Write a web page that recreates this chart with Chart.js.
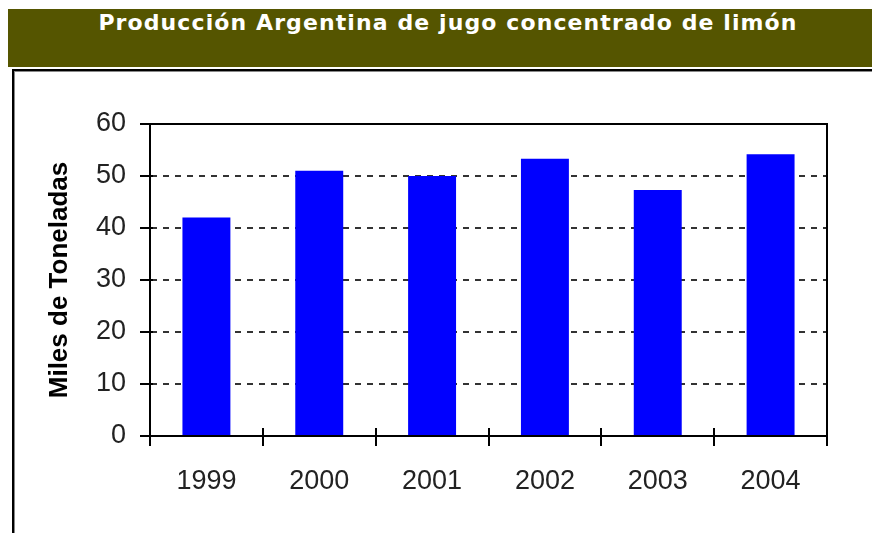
<!DOCTYPE html>
<html>
<head>
<meta charset="utf-8">
<script src="https://cdn.jsdelivr.net/npm/chart.js@4"></script>
<style>
  html, body { margin:0; padding:0; background:#fff; width:872px; height:533px; overflow:hidden; position:relative; }
  #band { position:absolute; left:8px; top:9px; width:880px; height:58px; background:#555500; }
  #title { position:absolute; left:12px; top:10px; width:872px; text-align:center; color:#fff;
           font-family:"DejaVu Sans", Verdana, sans-serif; font-weight:bold; font-size:22px; line-height:26px; letter-spacing:1.1px; }
  #box { position:absolute; left:12px; top:69px; width:900px; height:500px; border:2px solid #000; box-shadow: inset 1px 1px 0 #888; }
  #wrap { position:absolute; left:0; top:0; width:872px; height:533px; }
</style>
</head>
<body>
<div id="band"></div>
<div id="title">Producción Argentina de jugo concentrado de limón</div>
<div id="box"></div>
<div id="wrap"><canvas id="c" width="872" height="533"></canvas></div>
<script>
const years = ["1999", "2000", "2001", "2002", "2003", "2004"];
const produccion = [42, 51, 50, 53.3, 47.3, 54.2];
const yTicks = [0, 10, 20, 30, 40, 50, 60];
const yTitle = "Miles de Toneladas";

const tickFont = { family: '"Liberation Sans", Arial, sans-serif', size: 27 };

const framePlugin = {
  id: 'frame',
  afterDraw(chart) {
    const { ctx, chartArea: a, scales } = chart;
    ctx.save();
    ctx.strokeStyle = '#000';
    ctx.lineWidth = 2;
    ctx.beginPath();
    ctx.moveTo(a.left - 10, a.top);
    ctx.lineTo(a.right, a.top);
    ctx.lineTo(a.right, a.bottom);
    ctx.stroke();
    ctx.beginPath();
    yTicks.forEach(v => {
      const y = Math.round(scales.y.getPixelForValue(v));
      ctx.moveTo(a.left, y); ctx.lineTo(a.left + 3, y);
    });
    const n = years.length;
    for (let i = 0; i <= n; i++) {
      const x = Math.round(scales.x.getPixelForValue(i - 0.5));
      ctx.moveTo(x, a.bottom); ctx.lineTo(x, a.bottom - 8);
    }
    ctx.stroke();
    ctx.restore();
  }
};

new Chart(document.getElementById('c'), {
  type: 'bar',
  data: {
    labels: years,
    datasets: [{
      data: produccion,
      backgroundColor: '#0000ff',
      borderWidth: 0,
      barPercentage: 0.425,
      categoryPercentage: 1
    }]
  },
  options: {
    responsive: false,
    animation: false,
    devicePixelRatio: 1,
    layout: { padding: { top: 124, right: 45, left: 0, bottom: 0 } },
    plugins: { legend: { display: false }, tooltip: { enabled: false }, title: { display: false } },
    scales: {
      x: {
        afterFit(s) { s.height = 97; },
        grid: { offset: true, drawOnChartArea: false, color: '#000', tickColor: '#000', tickLength: 10, lineWidth: 2 },
        border: { color: '#000', width: 2 },
        ticks: { color: '#222', font: tickFont, padding: 19 }
      },
      y: {
        min: 0, max: 60,
        afterFit(s) { s.width = 150; },
        afterBuildTicks(s) { s.ticks = yTicks.map(v => ({ value: v })); },
        grid: {
          color: ctx => (ctx.tick && (ctx.tick.value === 0 || ctx.tick.value === 60)) ? 'rgba(0,0,0,0)' : '#333',
          lineWidth: 2,
          tickColor: '#000',
          tickLength: 10,
          tickBorderDash: []
        },
        border: { color: '#000', width: 2, dash: [6, 6] },
        ticks: { color: '#222', font: tickFont, padding: 14 },
        title: {
          display: true, text: yTitle, color: '#000',
          font: { family: '"Liberation Sans", Arial, sans-serif', size: 26, weight: 'bold' },
          padding: { top: 44, bottom: 0 }
        }
      }
    }
  },
  plugins: [framePlugin]
});
</script>
</body>
</html>
